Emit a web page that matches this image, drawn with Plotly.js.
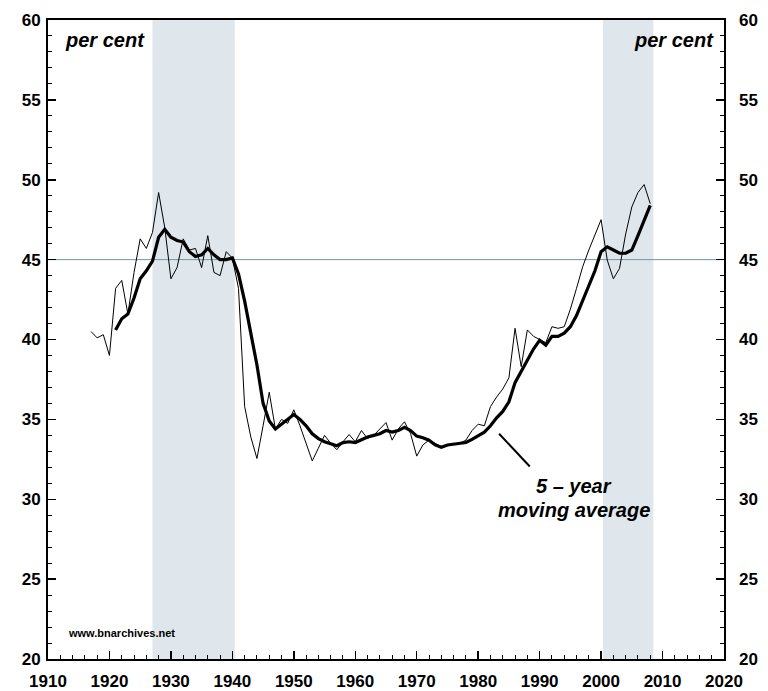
<!DOCTYPE html>
<html>
<head>
<meta charset="utf-8">
<script src="https://cdn.plot.ly/plotly-3.0.1.min.js"></script>
<style>html,body{margin:0;padding:0;background:#fff;}#chart{width:768px;height:691px;}</style>
</head>
<body>
<div id="chart"></div>
<script>
// Annual series (per cent), 1917-2008
const annualYears = [];
for (let y = 1917; y <= 2008; y++) annualYears.push(y);
const annualValues = [
  40.5, 40.1, 40.3, 39.0, 43.2, 43.7, 41.6, 44.2, 46.3, 45.7,   // 1917-1926
  46.7, 49.2, 47.0, 43.8, 44.5, 46.3, 45.6, 45.7, 44.5, 46.5,   // 1927-1936
  44.2, 44.0, 45.5, 45.1, 43.2, 35.8, 33.9, 32.55, 34.6, 36.7,  // 1937-1946
  34.4, 35.0, 34.75, 35.6, 34.6, 33.5, 32.4, 33.2, 34.0, 33.5,  // 1947-1956
  33.1, 33.6, 34.05, 33.6, 34.3, 33.8, 34.0, 34.4, 34.8, 33.7,  // 1957-1966
  34.4, 34.85, 34.1, 32.7, 33.4, 33.7, 33.5, 33.3, 33.4, 33.45, // 1967-1976
  33.5, 33.7, 34.3, 34.7, 34.6, 35.8, 36.4, 36.9, 37.6, 40.7,   // 1977-1986
  38.3, 40.6, 40.2, 40.0, 39.8, 40.8, 40.7, 40.8, 41.9, 43.2,   // 1987-1996
  44.55, 45.6, 46.5, 47.5, 44.97, 43.8, 44.45, 46.6, 48.3, 49.2,// 1997-2006
  49.7, 48.5                                                    // 2007-2008
];
// 5-year moving average, 1921-2008
const maYears = [];
for (let y = 1921; y <= 2008; y++) maYears.push(y);
const maValues = [
  40.6, 41.3, 41.6, 42.6, 43.8, 44.3, 44.9, 46.4, 46.9, 46.4,   // 1921-1930
  46.2, 46.1, 45.5, 45.2, 45.3, 45.7, 45.3, 45.0, 45.0, 45.1,   // 1931-1940
  44.1, 42.4, 40.4, 38.4, 36.0, 34.9, 34.4, 34.7, 35.0, 35.3,   // 1941-1950
  35.0, 34.6, 34.1, 33.8, 33.6, 33.45, 33.35, 33.55, 33.6, 33.55,// 1951-1960
  33.75, 33.9, 34.0, 34.1, 34.3, 34.2, 34.3, 34.5, 34.3, 33.95, // 1961-1970
  33.85, 33.7, 33.4, 33.25, 33.4, 33.45, 33.5, 33.55, 33.75, 33.95, // 1971-1980
  34.2, 34.6, 35.1, 35.5, 36.1, 37.3, 38.0, 38.7, 39.4, 39.95,  // 1981-1990
  39.65, 40.2, 40.2, 40.4, 40.8, 41.5, 42.4, 43.3, 44.3, 45.5,  // 1991-2000
  45.8, 45.6, 45.4, 45.4, 45.6, 46.5, 47.5, 48.4                // 2001-2008
];
// Shaded periods
const shadeStarts = [1927, 2000.3];
const shadeEnds = [1940.4, 2008.5];
const refLevel = 45;

const xTickVals = [1910,1920,1930,1940,1950,1960,1970,1980,1990,2000,2010,2020];
const yTickVals = [20,25,30,35,40,45,50,55,60];

const fontFam = '"Liberation Sans", Arial, Helvetica, sans-serif';

const traces = [
  {x: annualYears, y: annualValues, type: 'scatter', mode: 'lines',
   line: {color: '#000', width: 1}, hoverinfo: 'skip', showlegend: false},
  {x: maYears, y: maValues, type: 'scatter', mode: 'lines', yaxis: 'y2',
   line: {color: '#000', width: 3.2}, hoverinfo: 'skip', showlegend: false}
];

const shapes = [];
for (let i = 0; i < shadeStarts.length; i++) {
  shapes.push({type: 'rect', xref: 'x', yref: 'paper', x0: shadeStarts[i], x1: shadeEnds[i],
    y0: 0, y1: 1, fillcolor: '#dfe7ed', line: {width: 0}, layer: 'below'});
}
shapes.push({type: 'line', xref: 'paper', yref: 'y', x0: 0, x1: 1, y0: refLevel, y1: refLevel,
  line: {color: '#6f979d', width: 1}, layer: 'below'});
shapes.push({type: 'line', xref: 'x', yref: 'y', x0: 1983.4, y0: 34.1, x1: 1988.4, y1: 32.05,
  line: {color: '#000', width: 2}});

const tickFont = {family: fontFam, size: 17, color: '#000', weight: 'bold'};

const layout = {
  width: 768, height: 691,
  margin: {l: 48, r: 44, t: 20, b: 32},
  paper_bgcolor: '#fff', plot_bgcolor: '#fff',
  font: {family: fontFam, color: '#000', size: 18},
  showlegend: false,
  xaxis: {
    range: [1910, 2020], tickvals: xTickVals, ticktext: xTickVals.map(String),
    ticks: 'inside', ticklen: 8, tickwidth: 1.5, tickcolor: '#000',
    minor: {dtick: 2, tick0: 1910, ticks: 'inside', ticklen: 4, tickwidth: 1, tickcolor: '#000'},
    showline: true, linecolor: '#000', linewidth: 2, mirror: true,
    showgrid: false, zeroline: false, ticklabelstandoff: 6,
    tickfont: tickFont
  },
  yaxis: {
    range: [20, 60], tickvals: yTickVals,
    ticks: 'inside', ticklen: 8, tickwidth: 1.5, tickcolor: '#000',
    minor: {dtick: 1, ticks: 'inside', ticklen: 4, tickwidth: 1, tickcolor: '#000'},
    showline: true, linecolor: '#000', linewidth: 2, mirror: 'ticks',
    showgrid: false, zeroline: false, ticklabelstandoff: 2,
    tickfont: tickFont
  },
  yaxis2: {
    range: [20, 60], tickvals: yTickVals, overlaying: 'y', side: 'right',
    ticks: '', showline: false, showgrid: false, zeroline: false,
    ticklabelstandoff: 14,
    tickfont: tickFont
  },
  shapes: shapes,
  annotations: [
    {xref: 'paper', yref: 'paper', x: 0.022, y: 0.968, xanchor: 'left', yanchor: 'middle',
     text: '<b><i>per cent</i></b>', showarrow: false, font: {family: fontFam, size: 20, color: '#000'}},
    {xref: 'paper', yref: 'paper', x: 0.988, y: 0.968, xanchor: 'right', yanchor: 'middle',
     text: '<b><i>per cent</i></b>', showarrow: false, font: {family: fontFam, size: 20, color: '#000'}},
    {xref: 'x', yref: 'y', x: 1995.6, y: 30.8, xanchor: 'center', yanchor: 'middle',
     text: '<b><i>5 – year</i></b>', showarrow: false,
     font: {family: fontFam, size: 20, color: '#000'}},
    {xref: 'x', yref: 'y', x: 1995.6, y: 29.35, xanchor: 'center', yanchor: 'middle',
     text: '<b><i>moving average</i></b>', showarrow: false,
     font: {family: fontFam, size: 20, color: '#000'}},
    {xref: 'paper', yref: 'paper', x: 0.026, y: 0.041, xanchor: 'left', yanchor: 'middle',
     text: '<b>www.bnarchives.net</b>', showarrow: false, font: {family: fontFam, size: 11, color: '#000'}}
  ]
};

Plotly.newPlot('chart', traces, layout, {staticPlot: true, displayModeBar: false});
</script>
</body>
</html>
